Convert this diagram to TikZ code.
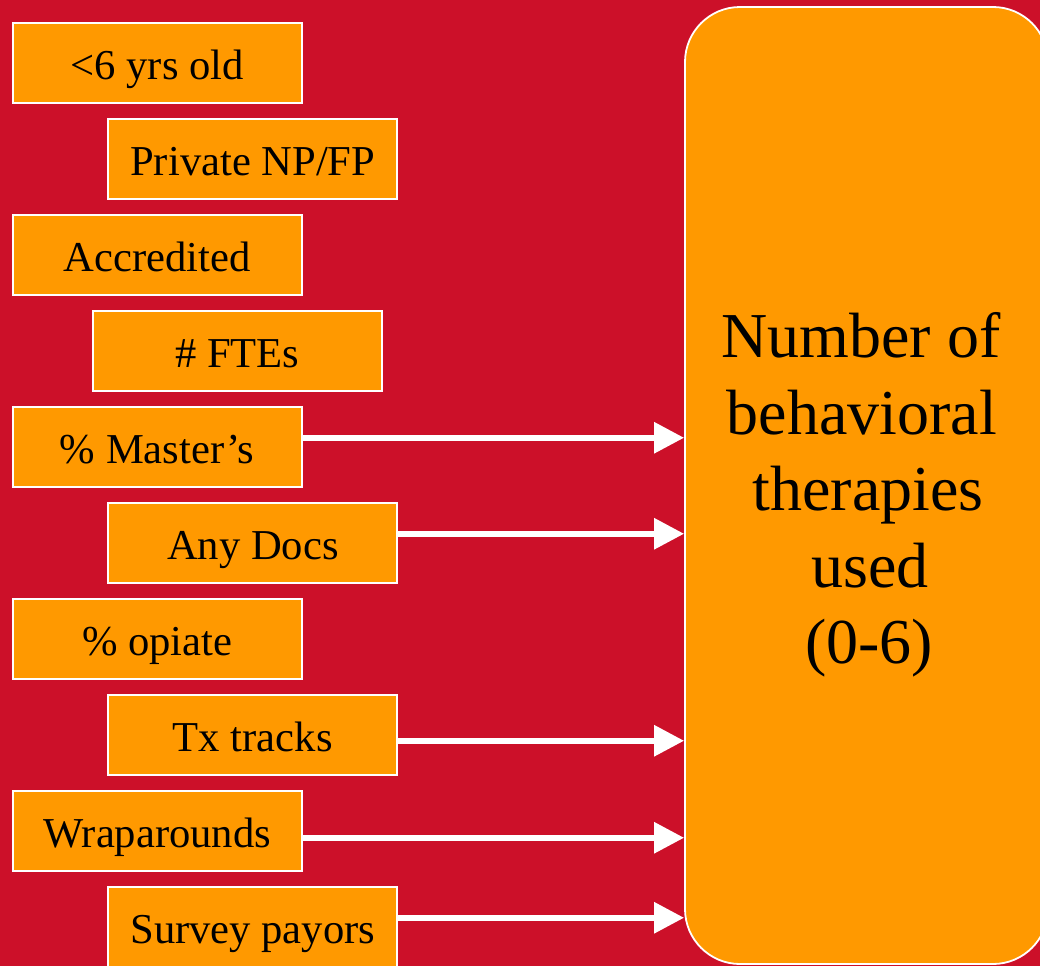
\documentclass[tikz,border=0pt]{standalone}
\usepackage{fontspec}
\setmainfont{Liberation Serif}
\usetikzlibrary{arrows.meta}
\definecolor{bgred}{RGB}{204,16,41}
\definecolor{boxorange}{RGB}{255,153,0}
\tikzset{
  factor/.style={draw=white, line width=2pt, fill=boxorange, minimum width=289pt,
    minimum height=80.5pt, inner sep=0pt, text height=38pt, text depth=6pt,
    font=\fontsize{42.6}{48}\selectfont},
  outcome/.style={draw=white, line width=1.8pt, fill=boxorange, rounded corners=55pt},
  bigtext/.style={align=center, font=\fontsize{64}{76.6}\selectfont, inner sep=0pt},
  arr/.style={draw=white, line width=6pt, -{Triangle[length=30pt 0 0, width=30pt 0 0]}, white}
}
\begin{document}
\begin{tikzpicture}[x=1pt,y=-1pt]
\useasboundingbox (0,0) rectangle (1040,966);
\clip (0,0) rectangle (1040,966);
\fill[bgred] (0,0) rectangle (1040,966);
\node[outcome, minimum width=363pt, minimum height=957pt] (T) at (866.5,485.5) {};
\node[bigtext] (Tt) at (866,495) {\hspace*{-10pt}Number of\\\hspace*{-8pt}behavioral\\\hspace*{4pt}therapies\\\hspace*{8pt}used\\\hspace*{6pt}(0-6)};
\node[factor] (a) at (157.2,63) {<6 yrs old};
\node[factor] (b) at (252.8,159) {Private NP/FP};
\node[factor] (c) at (157.2,255) {Accredited};
\node[factor] (d) at (237.2,351) {\# FTEs};
\node[factor] (e) at (157.2,447) {\% Master’s};
\node[factor] (f) at (252.8,543) {Any Docs};
\node[factor] (g) at (157.2,639) {\% opiate};
\node[factor] (h) at (252.8,735) {Tx tracks};
\node[factor] (i) at (157.2,831) {Wraparounds};
\node[factor] (j) at (252.8,927) {Survey payors};
\draw[arr] ([yshift=-32pt]e.north east) -- ([yshift=-32pt]e.north east -| T.west);
\draw[arr] ([yshift=-32pt]f.north east) -- ([yshift=-32pt]f.north east -| T.west);
\draw[arr] ([yshift=-47pt]h.north east) -- ([yshift=-47pt]h.north east -| T.west);
\draw[arr] ([yshift=-48pt]i.north east) -- ([yshift=-48pt]i.north east -| T.west);
\draw[arr] ([yshift=-32pt]j.north east) -- ([yshift=-32pt]j.north east -| T.west);
\end{tikzpicture}
\end{document}
